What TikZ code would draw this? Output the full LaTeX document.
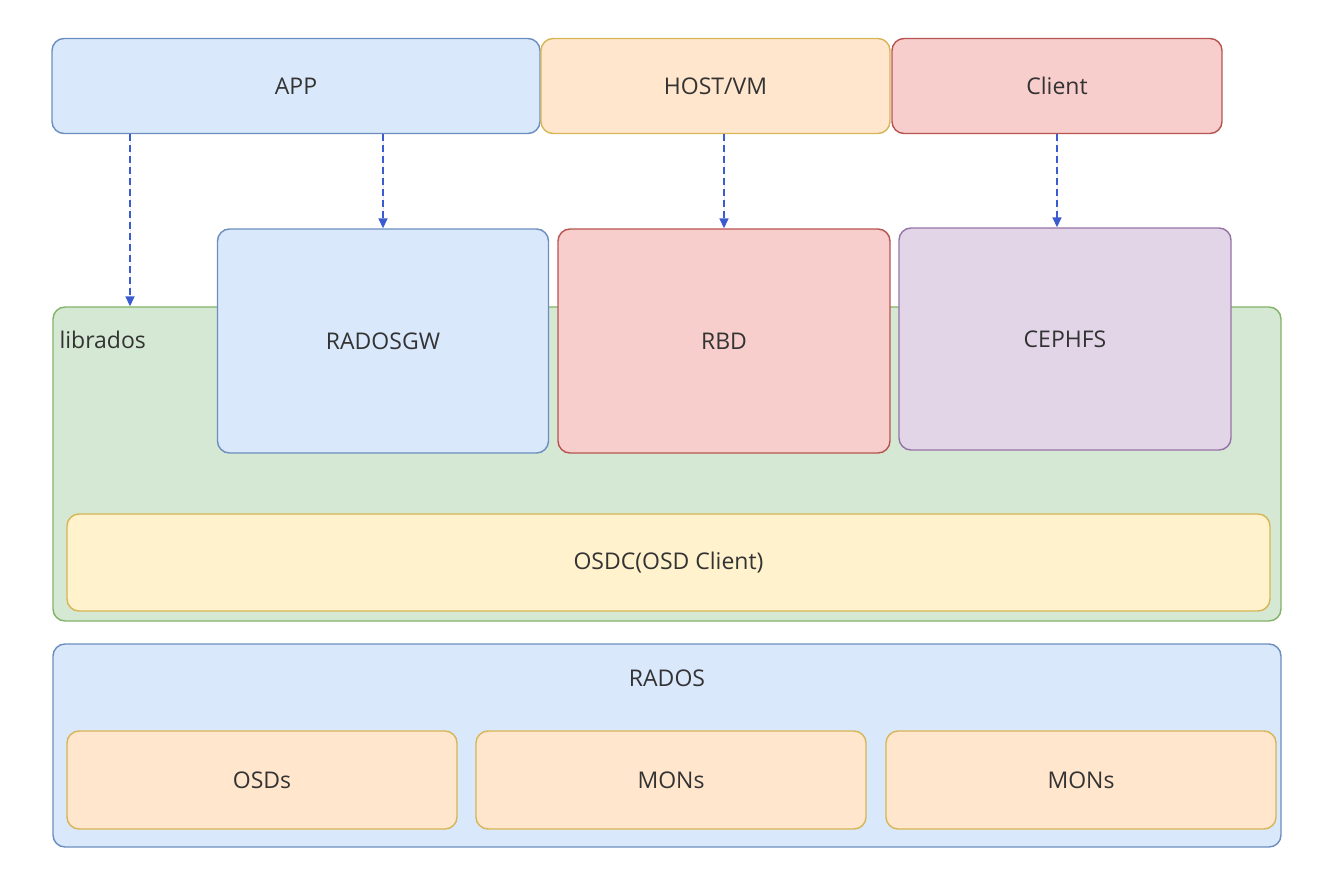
\documentclass[tikz,border=0pt]{standalone}
\usepackage{fontspec}
\setmainfont{Open Sans}
\usepackage{xcolor}
\usetikzlibrary{positioning,arrows.meta}
\definecolor{blueFill}{HTML}{DAE8FC}
\definecolor{blueLine}{HTML}{6C8EBF}
\definecolor{orangeFill}{HTML}{FFE6CC}
\definecolor{orangeLine}{HTML}{D6B656}
\definecolor{redFill}{HTML}{F8CECC}
\definecolor{redLine}{HTML}{B85450}
\definecolor{purpleFill}{HTML}{E1D5E7}
\definecolor{purpleLine}{HTML}{9673A6}
\definecolor{greenFill}{HTML}{D5E8D4}
\definecolor{greenLine}{HTML}{82B366}
\definecolor{yellowFill}{HTML}{FFF2CC}
\definecolor{arrowBlue}{HTML}{3B5BD0}
\definecolor{textGray}{HTML}{333333}
\tikzset{
	box/.style={rectangle, rounded corners=12pt, line width=1.4pt, text=textGray, font=\fontsize{23}{27}\selectfont, inner sep=0pt},
	bluebox/.style={box, draw=blueLine, fill=blueFill},
	orangebox/.style={box, draw=orangeLine, fill=orangeFill},
	redbox/.style={box, draw=redLine, fill=redFill},
	purplebox/.style={box, draw=purpleLine, fill=purpleFill},
	greenbox/.style={box, draw=greenLine, fill=greenFill},
	yellowbox/.style={box, draw=orangeLine, fill=yellowFill},
	callarrow/.style={-{Triangle[length=10pt,width=9pt]}, dash pattern=on 7pt off 4pt, line width=1.6pt, draw=arrowBlue, fill=arrowBlue}
}

\begin{document}
\begin{tikzpicture}[x=1pt, y=-1pt]
		\useasboundingbox (0,0) rectangle (1342,872);
		
		%top row
		\node[bluebox, minimum width=488pt, minimum height=95pt] at (296,86) (APP) {APP};
		\node[orangebox, minimum width=349pt, minimum height=95pt] at (715.5,86) (HOST) {HOST/VM};
		\node[redbox, minimum width=330pt, minimum height=95pt] at (1057,86) (Client) {Client};
		
		%librados layer
		\node[greenbox, minimum width=1228pt, minimum height=314pt] at (667,464) (lib) {};
		\node[text=textGray, font=\fontsize{23}{27}\selectfont, anchor=west] at (56,340) (libT) {librados};
		\node[bluebox, minimum width=331pt, minimum height=224pt] at (383,341) (GW) {RADOSGW};
		\node[redbox, minimum width=332pt, minimum height=224pt] at (724,341) (RBD) {RBD};
		\node[purplebox, minimum width=332pt, minimum height=222pt] at (1065,339) (FS) {CEPHFS};
		\node[yellowbox, minimum width=1203pt, minimum height=97pt] at (668.5,562.5) (OSDC) {OSDC(OSD Client)};
		
		%rados layer
		\node[bluebox, minimum width=1228pt, minimum height=203pt] at (667,745.5) (RADOS) {};
		\node[text=textGray, font=\fontsize{23}{27}\selectfont] at (667,678) (radosT) {RADOS};
		\node[orangebox, minimum width=390pt, minimum height=98pt] at (262,780) (OSD) {OSDs};
		\node[orangebox, minimum width=390pt, minimum height=98pt] at (671,780) (MON1) {MONs};
		\node[orangebox, minimum width=390pt, minimum height=98pt] at (1081,780) (MON2) {MONs};
		
		%Lines
		\coordinate (libIn) at (lib.north -| 130,0);
		\draw[callarrow] (APP.south -| libIn) -- (libIn);
		\draw[callarrow] (APP.south -| GW.north) -- (GW.north);
		\draw[callarrow] (HOST.south -| RBD.north) -- (RBD.north);
		\draw[callarrow] (Client.south) -- (Client.south |- FS.north);
		
	\end{tikzpicture}
\end{document}
